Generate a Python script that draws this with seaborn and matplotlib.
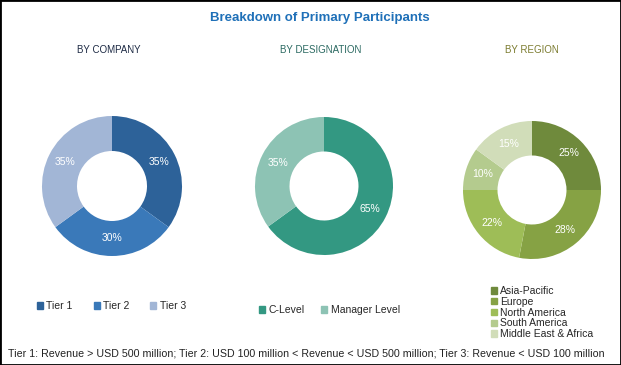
import matplotlib
matplotlib.use('Agg')
import matplotlib.pyplot as plt
import seaborn as sns
from matplotlib.patches import Patch, Rectangle

# Data
company_labels = ['Tier 1', 'Tier 2', 'Tier 3']
company_values = [35, 30, 35]
designation_labels = ['C-Level', 'Manager Level']
designation_values = [65, 35]
region_labels = ['Asia-Pacific', 'Europe', 'North America', 'South America', 'Middle East & Africa']
region_values = [25, 28, 22, 10, 15]

company_colors = sns.color_palette(['#2D6299', '#3A79B9', '#A2B6D6'])
designation_colors = sns.color_palette(['#339882', '#8DC3B4'])
region_colors = sns.color_palette(['#6F8A3C', '#86A244', '#9EBD57', '#B4CB8E', '#D1DDB9'])

sns.set_theme(style='white')
plt.rcParams['font.family'] = ['Liberation Sans Narrow', 'Liberation Sans', 'DejaVu Sans']

W, H = 621, 365
fig = plt.figure(figsize=(W / 100, H / 100), dpi=100)
fig.patch.set_facecolor('white')


def donut(cx, cy, r, values, colors):
    # cx, cy, r in pixels (y from top)
    ax = fig.add_axes([(cx - r) / W, (H - cy - r) / H, 2 * r / W, 2 * r / H])
    ax.pie(values, colors=colors, startangle=90, counterclock=False,
           wedgeprops=dict(width=0.5, edgecolor='none'),
           autopct='%d%%', pctdistance=0.75,
           textprops=dict(color='white', fontsize=7.5))
    ax.set_xlim(-1, 1)
    ax.set_ylim(-1, 1)
    ax.set_aspect('equal')
    ax.axis('off')
    return ax


donut(112, 186, 70, company_values, company_colors)
donut(324, 186, 69, designation_values, designation_colors)
donut(532, 190, 69, region_values, region_colors)

fig.text(320 / W, 1 - 18 / H, 'Breakdown of Primary Participants', ha='center', va='center',
         fontsize=9.5, fontweight='bold', color='#1F70B8')
fig.text(109 / W, 1 - 50 / H, 'BY COMPANY', ha='center', va='center', fontsize=7, color='#1E2B45')
fig.text(321 / W, 1 - 50 / H, 'BY DESIGNATION', ha='center', va='center', fontsize=7, color='#2C6A62')
fig.text(532 / W, 1 - 50 / H, 'BY REGION', ha='center', va='center', fontsize=7, color='#7C7C30')

leg_kw = dict(frameon=False, fontsize=7.5, handlelength=0.6, handleheight=0.6,
              handletextpad=0.3, borderpad=0, borderaxespad=0)

h1 = [Patch(color=c, label=l) for c, l in zip(company_colors, company_labels)]
fig.legend(handles=h1, loc='center left', bbox_to_anchor=(37 / W, 1 - 306 / H),
           ncol=3, columnspacing=2.0, **leg_kw)

h2 = [Patch(color=c, label=l) for c, l in zip(designation_colors, designation_labels)]
fig.legend(handles=h2, loc='center left', bbox_to_anchor=(259 / W, 1 - 310 / H),
           ncol=2, columnspacing=1.6, **leg_kw)

h3 = [Patch(color=c, label=l) for c, l in zip(region_colors, region_labels)]
fig.legend(handles=h3, loc='upper left', bbox_to_anchor=(491 / W, 1 - 286 / H),
           ncol=1, labelspacing=0.08, **leg_kw)

fig.text(8 / W, 1 - 354 / H,
         'Tier 1: Revenue > USD 500 million; Tier 2: USD 100 million < Revenue < USD 500 million; '
         'Tier 3: Revenue < USD 100 million',
         ha='left', va='center', fontsize=7.7, color='#222222')

fig.add_artist(Rectangle((0, 0), 1, 1, transform=fig.transFigure, fill=False,
                         edgecolor='black', linewidth=2))

fig.savefig('out.png', dpi=100)
